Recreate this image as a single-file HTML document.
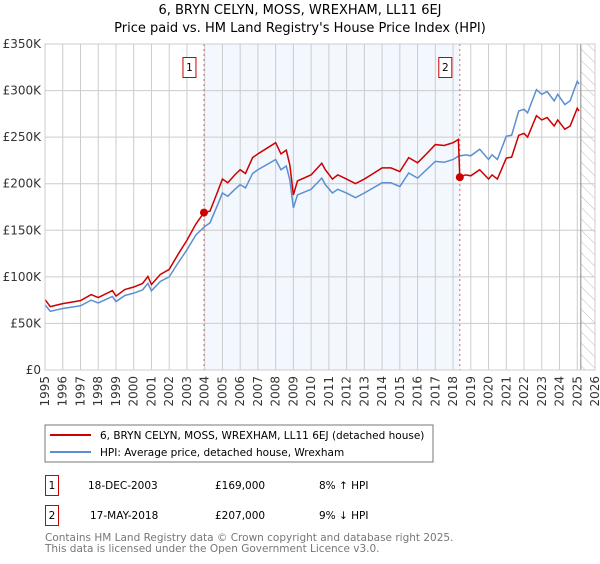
<!DOCTYPE html>
<html><head><meta charset="utf-8"><style>
body{margin:0;background:#fff;font-family:"DejaVu Sans","Liberation Sans",sans-serif;}
svg text{font-family:"DejaVu Sans","Liberation Sans",sans-serif;}
</style></head><body>
<svg id="chart" width="600" height="560" viewBox="0 0 600 560" xmlns="http://www.w3.org/2000/svg">
<defs><pattern id="hatch" width="8" height="8" patternUnits="userSpaceOnUse" patternTransform="rotate(-45)"><line x1="0" y1="0" x2="0" y2="8" stroke="#bbb" stroke-width="1"/></pattern></defs>
<text x="300" y="14" text-anchor="middle" font-size="13" fill="#000">6, BRYN CELYN, MOSS, WREXHAM, LL11 6EJ</text>
<text x="300" y="32" text-anchor="middle" font-size="13" fill="#000">Price paid vs. HM Land Registry's House Price Index (HPI)</text>
<g id="plot"></g>
<g>
<rect x="45" y="425" width="388" height="37" fill="#fff" stroke="#777" stroke-width="1"/>
<line x1="50" y1="435" x2="91" y2="435" stroke="#cc0000" stroke-width="2"/>
<text x="100" y="439" font-size="10.5" fill="#000">6, BRYN CELYN, MOSS, WREXHAM, LL11 6EJ (detached house)</text>
<line x1="50" y1="452" x2="91" y2="452" stroke="#5b8fd0" stroke-width="2"/>
<text x="100" y="456" font-size="10.5" fill="#000">HPI: Average price, detached house, Wrexham</text>
</g>
<g font-size="10.5" fill="#000">
<rect x="45.5" y="475.5" width="13" height="20" fill="#fff" stroke="#cc0000"/>
<text x="52" y="489" text-anchor="middle">1</text>
<text x="88" y="489">18-DEC-2003</text>
<text x="215" y="489">£169,000</text>
<text x="319" y="489">8% ↑ HPI</text>
</g>
<g font-size="10.5" fill="#000">
<rect x="45.5" y="505.5" width="13" height="20" fill="#fff" stroke="#cc0000"/>
<text x="52" y="519" text-anchor="middle">2</text>
<text x="90" y="519">17-MAY-2018</text>
<text x="215" y="519">£207,000</text>
<text x="319" y="519">9% ↓ HPI</text>
</g>
<text x="45" y="541" font-size="10.5" fill="#777">Contains HM Land Registry data © Crown copyright and database right 2025.</text>
<text x="45" y="552" font-size="10.5" fill="#777">This data is licensed under the Open Government Licence v3.0.</text>
</svg>
<script>
const hpiYears=[1995,1995.3,1996,1997,1997.6,1998,1998.8,1999,1999.5,2000,2000.5,2000.8,2001,2001.5,2002,2002.5,2003,2003.5,2004,2004.3,2004.7,2005,2005.3,2005.7,2006,2006.3,2006.7,2007,2007.5,2008,2008.3,2008.6,2008.8,2009,2009.23,2010,2010.6,2010.8,2011.2,2011.5,2012,2012.5,2013,2013.5,2014,2014.5,2015,2015.5,2016,2016.5,2017,2017.5,2018,2018.3,2018.7,2019,2019.5,2020,2020.2,2020.5,2021,2021.3,2021.7,2022,2022.2,2022.7,2023,2023.3,2023.7,2023.9,2024.3,2024.6,2025,2025.1];
const hpiValues=[70,63,66,69,75,72,79,73.5,80,82.5,86,93,85,95,100,115,129,145,154,158,176,190,186.5,194,199,195.5,211,215,220.5,226,215,219,204,174,188,194,206,199,190,194,190,185,190,195.5,201,201,197,211.5,206,215,224,223,226,229.5,231,230,237,226,231,226,251,252,278,280,276,301,296,299,289,296,285,289,310,307];
const priceYears=[1995,1995.3,1996,1997,1997.6,1998,1998.8,1999,1999.5,2000,2000.5,2000.8,2001,2001.5,2002,2002.5,2003,2003.5,2003.96,2004.3,2004.7,2005,2005.3,2005.7,2006,2006.3,2006.7,2007,2007.5,2008,2008.3,2008.6,2008.8,2009,2009.23,2010,2010.6,2010.8,2011.2,2011.5,2012,2012.5,2013,2013.5,2014,2014.5,2015,2015.5,2016,2016.5,2017,2017.5,2018,2018.3,2018.38,2018.7,2019,2019.5,2020,2020.2,2020.5,2021,2021.3,2021.7,2022,2022.2,2022.7,2023,2023.3,2023.7,2023.9,2024.3,2024.6,2025,2025.1];
const priceValues=[75.6,68,71.3,74.5,81,77.8,85.3,79.4,86.4,89.1,92.9,100.4,91.8,102.6,108,124.2,139.3,156.6,169,170.6,190,205,201,209.5,215,211,228,232,238,244,232,236,220,188,203,209.5,222,215,205,209.5,205,200,205,211,217,217,213,228,222.5,232,242,241,244,247.5,207,209.5,208.5,215,205,209.5,205,227.5,228.5,252,254,250,273,268.5,271,262,268.5,258.5,262,281,278];
const sales=[{n:"1",year:2003.96,value:169},{n:"2",year:2018.38,value:207}];
const yTicks=[0,50,100,150,200,250,300,350];
const yTickLabels=["£0","£50K","£100K","£150K","£200K","£250K","£300K","£350K"];
const xTicks=[1995,1996,1997,1998,1999,2000,2001,2002,2003,2004,2005,2006,2007,2008,2009,2010,2011,2012,2013,2014,2015,2016,2017,2018,2019,2020,2021,2022,2023,2024,2025,2026];
const forecastStart=2025.2;

const X0=45,X1=595,Y0=370,Y1=44;
const xS=y=>X0+(y-1995)/(2026-1995)*(X1-X0);
const yS=v=>Y0-v/350*(Y0-Y1);
const NS="http://www.w3.org/2000/svg";
const plot=document.getElementById('plot');
function mk(tag,attrs,parent){const e=document.createElementNS(NS,tag);for(const k in attrs)e.setAttribute(k,attrs[k]);(parent||plot).appendChild(e);return e;}

const shade=mk('rect',{x:xS(sales[0].year),y:Y1,width:xS(sales[1].year)-xS(sales[0].year),height:Y0-Y1,fill:'#eef3fd',opacity:0.7});


const hatch=mk('rect',{x:xS(forecastStart),y:Y1,width:X1-xS(forecastStart),height:Y0-Y1,fill:'url(#hatch)'});



xTicks.forEach(t=>{
  const l=mk('line',{x1:xS(t),x2:xS(t),y1:Y1,y2:Y0,stroke:'#ccc','stroke-width':1});
  
  
  const tx=mk('text',{transform:`translate(${xS(t)+4},${Y0+6}) rotate(-90)`,'text-anchor':'end','font-size':12,fill:'#333'});
  tx.textContent=t;
  
  
});
yTicks.forEach((t,i)=>{
  const l=mk('line',{x1:X0,x2:X1,y1:yS(t),y2:yS(t),stroke:'#ccc','stroke-width':1});
  
  
  const tx=mk('text',{x:X0-4,y:yS(t)+4,'text-anchor':'end','font-size':12,fill:'#333'});
  tx.textContent=yTickLabels[i];
  
  
});
const fl=mk('line',{x1:xS(forecastStart),x2:xS(forecastStart),y1:Y1,y2:Y0,stroke:'#888','stroke-width':1});



sales.forEach(s=>{
  const l=mk('line',{x1:xS(s.year),x2:xS(s.year),y1:Y1,y2:Y0,stroke:'#e06060','stroke-width':1,'stroke-dasharray':'2,3'});
  
  
  const b=mk('rect',{x:xS(s.year)-21,y:57.5,width:13,height:20,fill:'#fff',stroke:'#cc0000'});
  
  
  const t=mk('text',{x:xS(s.year)-14.5,y:71,'text-anchor':'middle','font-size':10.5,fill:'#000'});
  t.textContent=s.n;
  
  
});

const hp=mk('polyline',{points:hpiYears.map((y,i)=>xS(y)+','+yS(hpiValues[i])).join(' '),fill:'none',stroke:'#5b8fd0','stroke-width':1.5});


const pp=mk('polyline',{points:priceYears.map((y,i)=>xS(y)+','+yS(priceValues[i])).join(' '),fill:'none',stroke:'#cc0000','stroke-width':1.5});


sales.forEach(s=>{
  const c=mk('circle',{cx:xS(s.year),cy:yS(s.value),r:4,fill:'#cc0000'});
  
  
});
const frame=mk('rect',{x:X0,y:Y1,width:X1-X0,height:Y0-Y1,fill:'none',stroke:'#ccc'});


</script>
</body></html>
